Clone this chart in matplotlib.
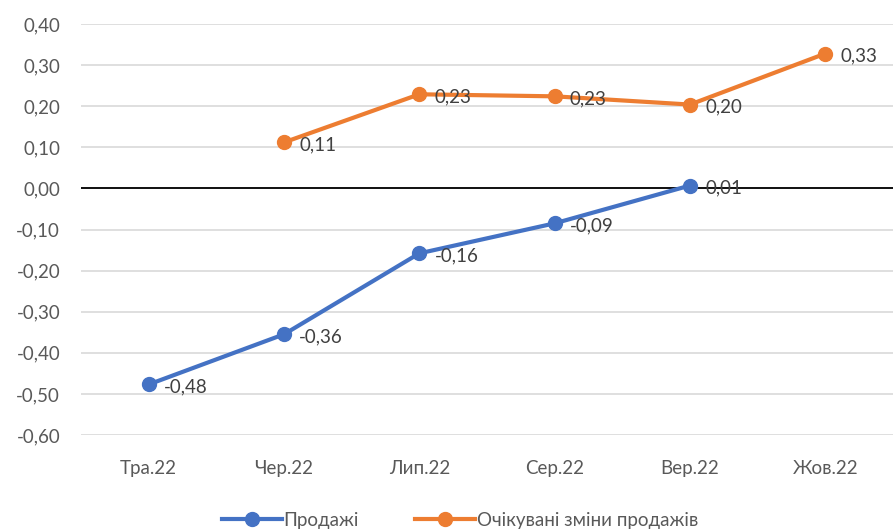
import matplotlib.pyplot as plt
import numpy as np

months = ['Тра.22', 'Чер.22', 'Лип.22', 'Сер.22', 'Вер.22', 'Жов.22']
sales = [-0.48, -0.36, -0.16, -0.09, 0.01, None]
expected = [None, 0.11, 0.23, 0.23, 0.20, 0.33]
# exact plotted positions (labels are rounded)
sales_pos = [-0.477, -0.355, -0.158, -0.085, 0.007, None]
expected_pos = [None, 0.112, 0.229, 0.224, 0.204, 0.328]

plt.rcParams['font.family'] = ['Lato', 'DejaVu Sans']

fig = plt.figure(figsize=(8.93, 5.30), dpi=100)
ax = fig.add_axes([81 / 893, 1 - 435 / 530, 812 / 893, 411 / 530])

x = np.arange(len(months))
blue = '#4472C4'
orange = '#ED7D31'
fs = 13.5

ys = np.array([np.nan if v is None else v for v in sales_pos])
ye = np.array([np.nan if v is None else v for v in expected_pos])
ax.plot(x, ys, color=blue, lw=3, marker='o', ms=10, label='Продажі', zorder=3)
ax.plot(x, ye, color=orange, lw=3, marker='o', ms=10,
        label='Очікувані зміни продажів', zorder=3)

def lab(v):
    return ('%.2f' % v).replace('.', ',')

for i in range(len(months)):
    if sales[i] is not None:
        ax.annotate(lab(sales[i]), (x[i], ys[i]), xytext=(11, -2),
                    textcoords='offset points', ha='left', va='center',
                    fontsize=fs, color='#404040', zorder=4)
    if expected[i] is not None:
        ax.annotate(lab(expected[i]), (x[i], ye[i]), xytext=(11, -2),
                    textcoords='offset points', ha='left', va='center',
                    fontsize=fs, color='#404040', zorder=4)

ax.set_xlim(-0.5, len(months) - 0.5)
ax.set_ylim(-0.6, 0.4)
ticks = np.arange(-0.6, 0.41, 0.1)
ax.set_yticks(ticks)
ax.set_yticklabels([lab(t + 0.0) if abs(t) > 1e-9 else '0,00' for t in ticks])
ax.set_xticks(x)
ax.set_xticklabels(months)
ax.tick_params(length=0, labelsize=fs, labelcolor='#595959')
ax.tick_params(axis='x', pad=18)
ax.tick_params(axis='y', pad=15)
ax.grid(axis='y', color='#D9D9D9', lw=1.2)
ax.set_axisbelow(True)
ax.axhline(0, color='black', lw=1.3, zorder=2)
for s in ax.spines.values():
    s.set_visible(False)

fig.legend(loc='lower center', ncol=2, frameon=False, fontsize=fs,
           bbox_to_anchor=(0.515, -0.03), handlelength=3.2, columnspacing=3,
           handletextpad=0.1, labelcolor='#595959')

fig.savefig('out.png', dpi=100)
